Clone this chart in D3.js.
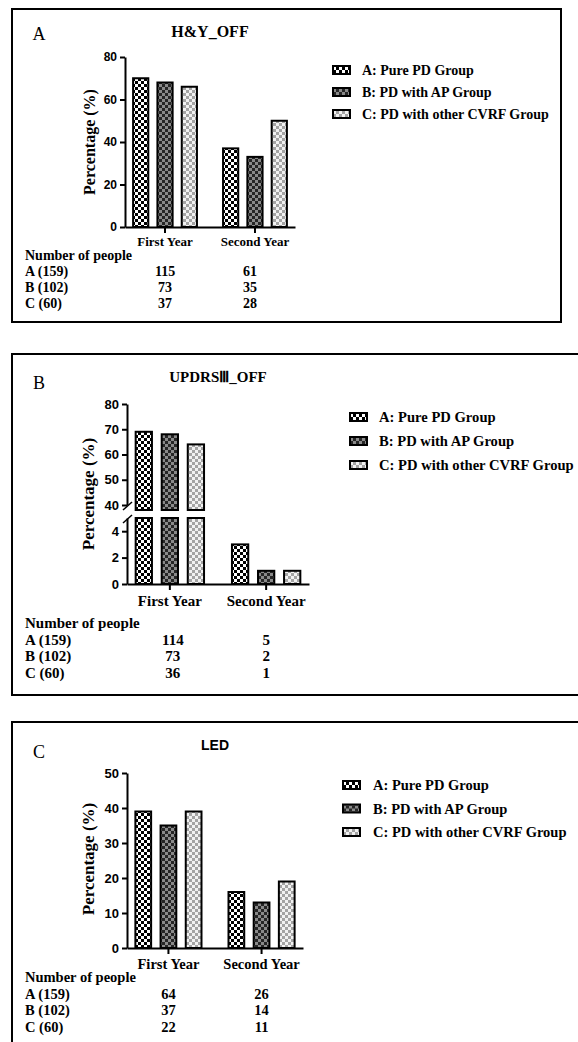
<!DOCTYPE html>
<html>
<head>
<meta charset="utf-8">
<script src="https://cdn.jsdelivr.net/npm/d3@7"></script>
<style>
  body { margin: 0; background: #fff; }
  svg text { font-family: "Liberation Serif", "Times New Roman", serif; font-weight: bold; fill: #000; }
</style>
</head>
<body>
<svg id="fig" width="578" height="1042"></svg>
<script>
var years = ["First Year", "Second Year"];
var groups = ["A: Pure PD Group", "B: PD with AP Group", "C: PD with other CVRF Group"];
var rowLabels = ["A (159)", "B (102)", "C (60)"];

// percentage per year (rows) and group (columns)
var hyPct = [[70, 68, 66], [37, 33, 50]];
var updrsPct = [[69, 68, 64], [3, 1, 1]];
var ledPct = [[39, 35, 39], [16, 13, 19]];

// number of people per group (rows) and year (columns)
var hyN = [[115, 61], [73, 35], [37, 28]];
var updrsN = [[114, 5], [73, 2], [36, 1]];
var ledN = [[64, 26], [37, 14], [22, 11]];

var hyTicks = [0, 20, 40, 60, 80];
var updrsTicksLow = [0, 2, 4];
var updrsTicksHigh = [40, 50, 60, 70, 80];
var ledTicks = [0, 10, 20, 30, 40, 50];

var svg = d3.select("#fig");
var sans = '"Liberation Sans", Arial, sans-serif';

// checker patterns for the three groups
var patterns = [
  {id: "patA", bg: "#ffffff", fg: "#000000"},
  {id: "patB", bg: "#8a8a8a", fg: "#262626"},
  {id: "patC", bg: "#f2f2f2", fg: "#a4a4a4"}
];
var defs = svg.append("defs");
patterns.forEach(function(p) {
  var pat = defs.append("pattern")
    .attr("id", p.id)
    .attr("patternUnits", "userSpaceOnUse")
    .attr("width", 6).attr("height", 6);
  pat.append("rect").attr("width", 6).attr("height", 6).attr("fill", p.bg);
  pat.append("rect").attr("width", 3).attr("height", 3).attr("fill", p.fg);
  pat.append("rect").attr("x", 3).attr("y", 3).attr("width", 3).attr("height", 3).attr("fill", p.fg);
});
var fillOf = d3.scaleOrdinal().domain(groups).range(patterns.map(function(p) { return "url(#" + p.id + ")"; }));

function drawPanel(c) {
  var g = svg.append("g");

  g.append("rect")
    .attr("x", c.box[0]).attr("y", c.box[1])
    .attr("width", c.box[2] - c.box[0]).attr("height", c.box[3] - c.box[1])
    .attr("fill", "none").attr("stroke", "#000").attr("stroke-width", 2);

  g.append("text")
    .attr("x", 39).attr("y", c.letterY)
    .attr("text-anchor", "middle")
    .style("font-weight", "normal").style("font-size", "18px")
    .text(c.letter);

  g.append("text")
    .attr("x", (c.x0 + c.x1) / 2).attr("y", c.titleY)
    .attr("text-anchor", "middle")
    .style("font-size", c.titleSize + "px")
    .style("font-family", c.titleSans ? sans : null)
    .text(c.title);

  var x = d3.scaleBand().domain(years).range([c.x0, c.x1]).paddingInner(0.29).paddingOuter(0.09);
  var xg = d3.scaleBand().domain(groups).range([0, x.bandwidth()]).paddingInner(0.375);

  // y segments (more than one when the axis is broken)
  c.segments.forEach(function(s) {
    var y = d3.scaleLinear().domain(s.domain).range(s.range);
    var bottom = s.barBottom || s.range[0];

    years.forEach(function(yr, i) {
      g.selectAll(null)
        .data(c.pct[i].map(function(v, j) { return {v: v, grp: groups[j]}; }).filter(function(d) { return d.v > s.domain[0]; }))
        .enter().append("rect")
          .attr("x", function(d) { return x(yr) + xg(d.grp); })
          .attr("width", xg.bandwidth())
          .attr("y", function(d) { return y(Math.min(d.v, s.domain[1])); })
          .attr("height", function(d) { return bottom - y(Math.min(d.v, s.domain[1])); })
          .attr("fill", function(d) { return fillOf(d.grp); })
          .attr("stroke", "#000").attr("stroke-width", 2);
    });

    var ax = g.append("g")
      .attr("transform", "translate(" + c.x0 + ",0)")
      .call(d3.axisLeft(y).tickValues(s.ticks).tickFormat(d3.format("d"))
        .tickSize(5).tickSizeOuter(0).tickPadding(3));
    ax.selectAll("path, line").attr("stroke", "#000").attr("stroke-width", 2);
    ax.selectAll("text")
      .style("font-family", sans).style("font-size", c.tickSize + "px").style("font-weight", "bold");
  });

  // break marks
  (c.breaks || []).forEach(function(by) {
    g.append("line")
      .attr("x1", c.x0 - 4).attr("y1", by + 4)
      .attr("x2", c.x0 + 5).attr("y2", by - 4)
      .attr("stroke", "#000").attr("stroke-width", 1.5);
  });

  var xa = g.append("g")
    .attr("transform", "translate(0," + c.y0 + ")")
    .call(d3.axisBottom(x).tickSize(6).tickSizeOuter(0).tickPadding(c.labelPad));
  xa.selectAll("path, line").attr("stroke", "#000").attr("stroke-width", 2);
  xa.selectAll("text")
    .style("font-family", null).style("font-size", c.labelSize + "px").style("font-weight", "bold");

  // y axis title
  g.append("text")
    .attr("transform", "translate(" + c.yTitleX + "," + c.yTitleY + ") rotate(-90)")
    .attr("text-anchor", "middle")
    .style("font-size", c.yTitleSize + "px")
    .text("Percentage (%)");

  // number of people table
  g.append("text")
    .attr("x", 25).attr("y", c.tableY)
    .style("font-size", c.tableSize + "px")
    .text("Number of people");
  rowLabels.forEach(function(lab, r) {
    var ty = c.tableY + c.rowStep * (r + 1);
    g.append("text")
      .attr("x", 25).attr("y", ty)
      .style("font-size", c.tableSize + "px")
      .text(lab);
    g.selectAll(null)
      .data(c.counts[r])
      .enter().append("text")
        .attr("x", function(d, i) { return x(years[i]) + x.bandwidth() / 2 + c.colShift[i]; })
        .attr("y", ty)
        .attr("text-anchor", "middle")
        .style("font-size", c.tableSize + "px")
        .text(function(d) { return d; });
  });

  // legend
  var leg = g.selectAll(null)
    .data(groups)
    .enter().append("g")
      .attr("transform", function(d, i) { return "translate(" + c.legX + "," + (c.legY + i * c.legStep) + ")"; });
  leg.append("rect")
    .attr("x", 0).attr("y", -4).attr("width", 17).attr("height", 8)
    .attr("fill", function(d) { return fillOf(d); })
    .attr("stroke", "#000").attr("stroke-width", 2);
  leg.append("text")
    .attr("x", c.legTextDx).attr("y", 5)
    .style("font-size", c.legSize + "px")
    .text(function(d) { return d; });
}

drawPanel({
  box: [12, 9, 561, 322], letter: "A", letterY: 40,
  title: "H&Y_OFF", titleY: 37, titleSize: 16, titleSans: false,
  x0: 125, x1: 295, y0: 227,
  pct: hyPct, counts: hyN,
  segments: [{domain: [0, 80], range: [227, 57], ticks: hyTicks}],
  tickSize: 12, labelSize: 13, labelPad: 4,
  yTitleX: 95, yTitleY: 142, yTitleSize: 16,
  tableY: 260, rowStep: 16, tableSize: 14, colShift: [0, -5],
  legX: 333, legY: 70, legStep: 22, legSize: 14, legTextDx: 29
});

drawPanel({
  box: [12, 354, 640, 695], letter: "B", letterY: 389,
  title: "UPDRS\u2162_OFF", titleY: 382, titleSize: 15, titleSans: false,
  x0: 127, x1: 309, y0: 584,
  pct: updrsPct, counts: updrsN,
  segments: [
    {domain: [0, 5], range: [584, 518], ticks: updrsTicksLow},
    {domain: [40, 80], range: [505, 404], ticks: updrsTicksHigh, barBottom: 510}
  ],
  breaks: [506, 519],
  tickSize: 13, labelSize: 15, labelPad: 5,
  yTitleX: 94, yTitleY: 494, yTitleSize: 17,
  tableY: 628, rowStep: 16.7, tableSize: 15, colShift: [3, 0],
  legX: 350, legY: 417, legStep: 24, legSize: 14.6, legTextDx: 29
});

drawPanel({
  box: [12, 722, 640, 1100], letter: "C", letterY: 758,
  title: "LED", titleY: 750, titleSize: 14, titleSans: true,
  x0: 127, x1: 303, y0: 948,
  pct: ledPct, counts: ledN,
  segments: [{domain: [0, 50], range: [948, 773], ticks: ledTicks}],
  tickSize: 13, labelSize: 14.5, labelPad: 5,
  yTitleX: 94, yTitleY: 859, yTitleSize: 17,
  tableY: 982, rowStep: 16.7, tableSize: 14.5, colShift: [0, 0],
  legX: 343, legY: 785, legStep: 23.5, legSize: 14.5, legTextDx: 30
});
</script>
</body>
</html>
